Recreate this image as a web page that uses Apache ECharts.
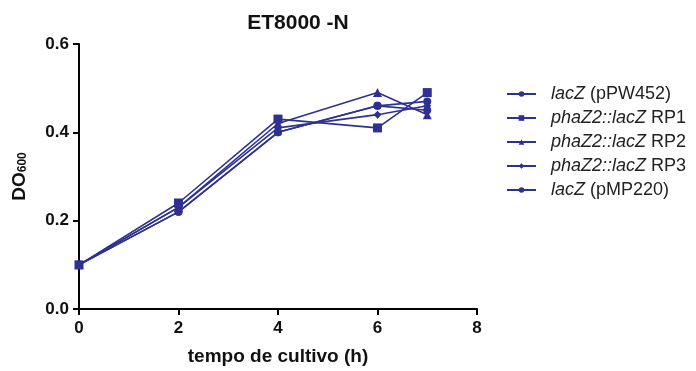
<!DOCTYPE html>
<html><head><meta charset="utf-8">
<script src="https://cdn.jsdelivr.net/npm/echarts@6/dist/echarts.min.js"></script>
<style>html,body{margin:0;padding:0;background:#fff}#c{width:696px;height:371px}</style>
</head><body><div id="c"></div>
<script>
var hours = [0, 2, 4, 6, 7];
var seriesNames = ['lacZ (pPW452)', 'phaZ2::lacZ RP1', 'phaZ2::lacZ RP2', 'phaZ2::lacZ RP3', 'lacZ (pMP220)'];
var pPW452 = [0.10, 0.22, 0.40, 0.46, 0.45];
var rp1 = [0.10, 0.24, 0.43, 0.41, 0.49];
var rp2 = [0.10, 0.23, 0.42, 0.49, 0.44];
var rp3 = [0.10, 0.23, 0.41, 0.44, 0.46];
var pMP220 = [0.10, 0.22, 0.40, 0.46, 0.47];
var xTicks = [0, 2, 4, 6, 8];
var yTicks = [0.0, 0.2, 0.4, 0.6];

var color = '#2e3192';
var symbols = ['circle', 'rect', 'triangle', 'diamond', 'circle'];
var sizes = [8, 9, 9, 8, 8];
var allData = [pPW452, rp1, rp2, rp3, pMP220];

function pairs(arr) { return hours.map(function (h, i) { return [h, arr[i]]; }); }

var series = allData.map(function (d, i) {
  return {
    name: seriesNames[i], type: 'line', data: pairs(d),
    symbol: symbols[i], symbolSize: sizes[i],
    lineStyle: { color: color, width: 1.6 },
    itemStyle: { color: color },
    animation: false
  };
});

var FF = 'Liberation Sans, Arial';
var chart = echarts.init(document.getElementById('c'));
chart.setOption({
  backgroundColor: '#fff',
  title: {
    text: 'ET8000 -N', left: 293, top: 8, textAlign: 'center',
    textStyle: { fontFamily: FF, fontWeight: 'bold', fontSize: 21, color: '#111' }
  },
  legend: {
    orient: 'vertical', left: 501, top: 79, itemGap: 4, itemWidth: 29, itemHeight: 7,
    data: seriesNames,
    formatter: function (n) {
      if (n.indexOf('phaZ2') === 0) {
        return '{i|phaZ2::lacZ}' + n.substring(11);
      }
      return '{i|lacZ}' + n.substring(4);
    },
    textStyle: {
      fontFamily: FF, fontSize: 18, color: '#222', padding: [0, 0, 0, 10], lineHeight: 20,
      rich: { i: { fontFamily: FF, fontSize: 18, fontStyle: 'italic', color: '#222', lineHeight: 20 } }
    }
  },
  grid: { left: 79, right: 219, top: 44, bottom: 61 },
  xAxis: {
    type: 'value', min: 0, max: 8, interval: 2,
    name: 'tempo de cultivo (h)', nameLocation: 'middle', nameGap: 38,
    nameTextStyle: { fontFamily: FF, fontWeight: 'bold', fontSize: 19, color: '#111' },
    axisLine: { lineStyle: { color: '#000', width: 2 } },
    axisTick: { length: 6, lineStyle: { color: '#000', width: 2 } },
    axisLabel: { fontFamily: FF, fontWeight: 'bold', fontSize: 17, color: '#111', margin: 11,
      formatter: function (v) { return xTicks.indexOf(v) >= 0 ? String(v) : ''; } },
    splitLine: { show: false }
  },
  yAxis: {
    type: 'value', min: 0, max: 0.6, interval: 0.2,
    name: '{a|DO}{s|600}', nameLocation: 'middle', nameGap: 50, nameRotate: 90,
    nameTextStyle: {
      fontFamily: FF, fontWeight: 'bold', fontSize: 19, color: '#111',
      rich: {
        a: { fontFamily: FF, fontWeight: 'bold', fontSize: 19, color: '#111', verticalAlign: 'bottom', lineHeight: 20 },
        s: { fontFamily: FF, fontWeight: 'bold', fontSize: 12, color: '#111', verticalAlign: 'bottom', lineHeight: 14 }
      }
    },
    axisLine: { show: true, lineStyle: { color: '#000', width: 2 } },
    axisTick: { show: true, length: 6, lineStyle: { color: '#000', width: 2 } },
    axisLabel: { fontFamily: FF, fontWeight: 'bold', fontSize: 17, color: '#111', margin: 10,
      formatter: function (v) { return v.toFixed(1); } },
    splitLine: { show: false }
  },
  series: series
});
</script></body></html>
